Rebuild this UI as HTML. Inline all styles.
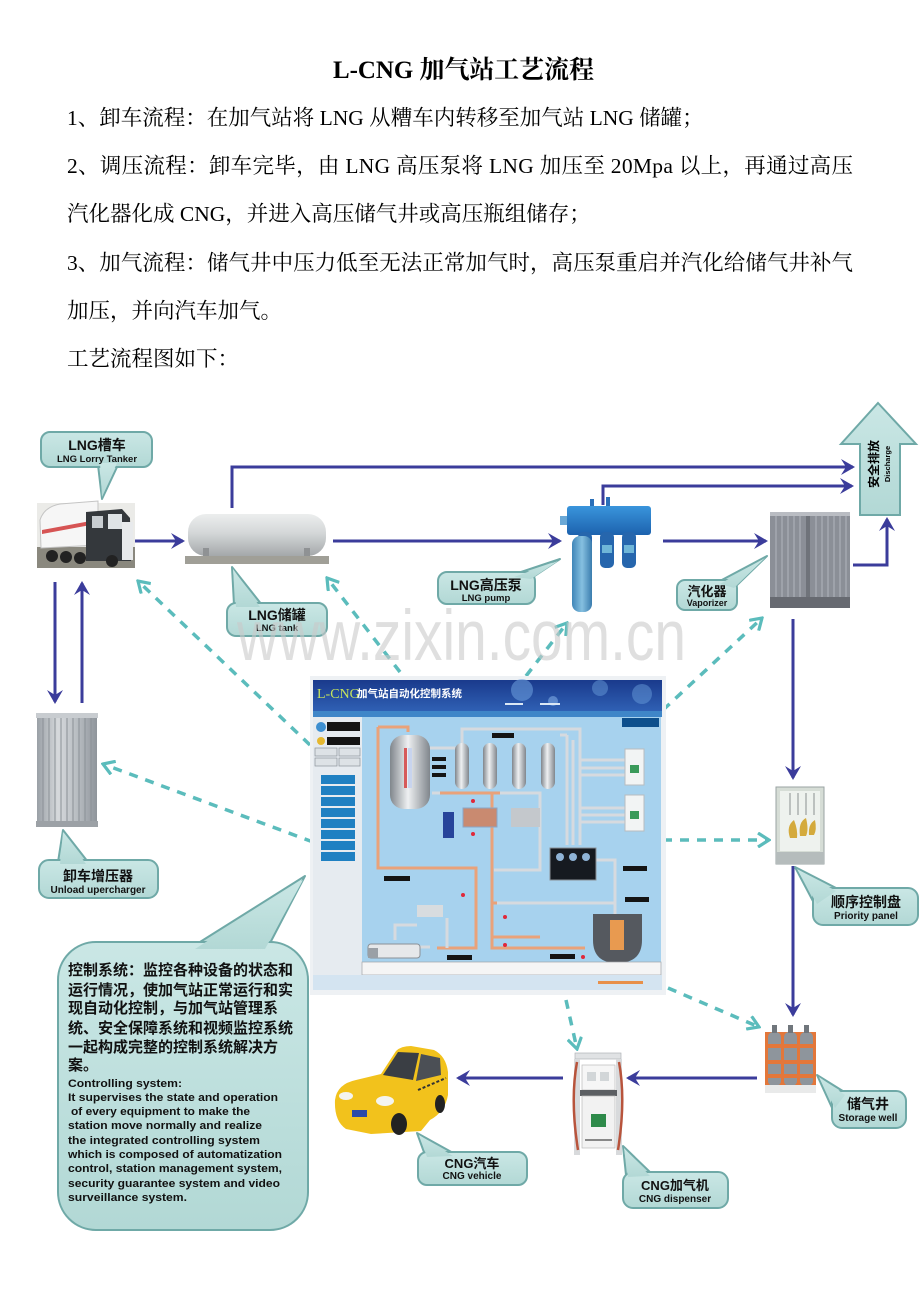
<!DOCTYPE html>
<html><head><meta charset="utf-8">
<style>
html,body{margin:0;padding:0;background:#fff;}
svg{display:block;}
.s{font-family:"Liberation Serif","Noto Serif CJK SC",serif;}
.b{font-family:"Liberation Sans","Noto Sans CJK SC",sans-serif;font-weight:bold;}
</style></head><body>
<svg width="920" height="1302" viewBox="0 0 920 1302" xmlns="http://www.w3.org/2000/svg">
<defs>
<marker id="ar" viewBox="0 0 14 16" markerWidth="14" markerHeight="16" refX="12" refY="8" orient="auto" markerUnits="userSpaceOnUse"><path d="M0,0 L14,8 L0,16 L5,8 z" fill="#3b3c9b"/></marker>
<marker id="ta" viewBox="0 0 14 16" markerWidth="14" markerHeight="16" refX="12" refY="8" orient="auto" markerUnits="userSpaceOnUse"><path d="M1,1 L12,8 L1,15" fill="none" stroke="#5bbcbc" stroke-width="3.2"/></marker>
<linearGradient id="gtank" x1="0" y1="0" x2="0" y2="1"><stop offset="0" stop-color="#eceeee"/><stop offset="0.45" stop-color="#d4d7d8"/><stop offset="1" stop-color="#a4a8aa"/></linearGradient>
<linearGradient id="gblue" x1="0" y1="0" x2="0" y2="1"><stop offset="0" stop-color="#3a95dc"/><stop offset="1" stop-color="#1d62ae"/></linearGradient>
<linearGradient id="gpipe" x1="0" y1="0" x2="1" y2="0"><stop offset="0" stop-color="#3f86b8"/><stop offset="0.5" stop-color="#86c0e0"/><stop offset="1" stop-color="#3a7cae"/></linearGradient>
<linearGradient id="gsc" x1="0" y1="0" x2="1" y2="0"><stop offset="0" stop-color="#9aa0a6"/><stop offset="0.35" stop-color="#d6d9dc"/><stop offset="0.7" stop-color="#b5babf"/><stop offset="1" stop-color="#8f959b"/></linearGradient>
<linearGradient id="ghdr" x1="0" y1="0" x2="0" y2="1"><stop offset="0" stop-color="#1a3a8c"/><stop offset="1" stop-color="#2f60b4"/></linearGradient>
<linearGradient id="gcyl" x1="0" y1="0" x2="1" y2="0"><stop offset="0" stop-color="#80868c"/><stop offset="0.45" stop-color="#eef0f2"/><stop offset="1" stop-color="#80868c"/></linearGradient>
<linearGradient id="gbub" x1="0" y1="0" x2="0" y2="1"><stop offset="0" stop-color="#cae7e5"/><stop offset="1" stop-color="#b2d8d5"/></linearGradient>
</defs>

<!-- ===== Top text ===== -->
<text class="s" x="333" y="78" font-size="25" font-weight="bold" textLength="261" lengthAdjust="spacingAndGlyphs">L-CNG 加气站工艺流程</text>
<text class="s" x="67" y="125" font-size="21.5">1、卸车流程：在加气站将 LNG 从糟车内转移至加气站 LNG 储罐；</text>
<text class="s" x="67" y="173" font-size="21.5" textLength="786" lengthAdjust="spacing">2、调压流程：卸车完毕，由 LNG 高压泵将 LNG 加压至 20Mpa 以上，再通过高压</text>
<text class="s" x="67" y="221" font-size="21.5">汽化器化成 CNG，并进入高压储气井或高压瓶组储存；</text>
<text class="s" x="67" y="270" font-size="21.5" textLength="786" lengthAdjust="spacing">3、加气流程：储气井中压力低至无法正常加气时，高压泵重启并汽化给储气井补气</text>
<text class="s" x="67" y="318" font-size="21.5">加压，并向汽车加气。</text>
<text class="s" x="67" y="366" font-size="21.5">工艺流程图如下：</text>

<!-- ===== Discharge arrow ===== -->
<polygon points="878,403 916,444 900,444 900,515 860,515 860,444 841,444" fill="url(#gbub)" stroke="#6fa9a7" stroke-width="2"/>
<g transform="translate(874,464) rotate(-90)"><text class="b" x="0" y="4" text-anchor="middle" font-size="12">安全排放</text></g>
<g transform="translate(887,464) rotate(-90)"><text class="b" x="0" y="3" text-anchor="middle" font-size="7.5">Discharge</text></g>

<!-- ===== Solid flow lines ===== -->
<g fill="none" stroke="#3b3c9b" stroke-width="3">
<path d="M133,541 H183" marker-end="url(#ar)"/>
<path d="M232,508 V467 H853" marker-end="url(#ar)"/>
<path d="M333,541 H560" marker-end="url(#ar)"/>
<path d="M603,505 V486 H852" marker-end="url(#ar)"/>
<path d="M663,541 H766" marker-end="url(#ar)"/>
<path d="M853,565 H887 V519" marker-end="url(#ar)"/>
<path d="M793,619 V778" marker-end="url(#ar)"/>
<path d="M793,866 V1015" marker-end="url(#ar)"/>
<path d="M757,1078 H628" marker-end="url(#ar)"/>
<path d="M563,1078 H458" marker-end="url(#ar)"/>
<path d="M55,582 V702" marker-end="url(#ar)"/>
<path d="M82,703 V583" marker-end="url(#ar)"/>
</g>

<!-- ===== Dashed control lines ===== -->
<g fill="none" stroke="#5bbcbc" stroke-width="3.5" stroke-dasharray="9 8">
<path d="M310,745 L138,581" marker-end="url(#ta)"/>
<path d="M400,672 L327,578" marker-end="url(#ta)"/>
<path d="M526,676 L567,623" marker-end="url(#ta)"/>
<path d="M663,710 L762,618" marker-end="url(#ta)"/>
<path d="M313,842 L103,764" marker-end="url(#ta)"/>
<path d="M663,840 L769,840" marker-end="url(#ta)"/>
<path d="M668,988 L759,1027" marker-end="url(#ta)"/>
<path d="M566,1000 L577,1049" marker-end="url(#ta)"/>
</g>

<!-- ===== Truck ===== -->
<g>
<rect x="37" y="503" width="98" height="65" fill="#ebebe8"/>
<rect x="37" y="547" width="98" height="21" fill="#8a887e"/>
<path d="M40,520 Q44,507 60,504 L98,501 L98,545 L41,548 Z" fill="#f6f6f6" stroke="#c4c4c4"/>
<path d="M42,530 L96,520 L96,524 L42,534 Z" fill="#d65454"/>
<path d="M86,512 L122,509 L130,518 L131,561 L86,561 Z" fill="#34383c"/>
<rect x="108" y="514" width="14" height="15" fill="#dfe3e6"/>
<rect x="92" y="516" width="11" height="12" fill="#c8cdd1"/>
<rect x="122" y="522" width="11" height="38" fill="#e8eaec"/>
<circle cx="52" cy="556" r="6" fill="#222"/><circle cx="66" cy="557" r="6" fill="#222"/><circle cx="80" cy="558" r="6" fill="#222"/><circle cx="112" cy="561" r="6" fill="#222"/>
</g>

<!-- ===== LNG tank ===== -->
<g>
<rect x="188" y="514" width="138" height="42" rx="18" fill="url(#gtank)"/>
<rect x="203" y="548" width="6" height="10" fill="#8f9294"/><rect x="304" y="548" width="6" height="10" fill="#8f9294"/>
<rect x="185" y="556" width="144" height="8" fill="#a09f97"/>
</g>

<!-- ===== Pump ===== -->
<g>
<rect x="590" y="499" width="4" height="9" fill="#2a6fb8"/><rect x="606" y="497" width="4" height="11" fill="#2a6fb8"/>
<rect x="560" y="516" width="10" height="9" fill="#6aa8d6"/>
<rect x="567" y="506" width="84" height="29" rx="3" fill="url(#gblue)"/>
<rect x="578" y="532" width="14" height="36" rx="5" fill="#2666ad"/>
<rect x="600" y="532" width="14" height="36" rx="5" fill="#2666ad"/>
<rect x="622" y="532" width="14" height="36" rx="5" fill="#2666ad"/>
<rect x="580" y="545" width="10" height="8" fill="#6fb6d8"/><rect x="602" y="545" width="10" height="8" fill="#6fb6d8"/><rect x="624" y="545" width="10" height="8" fill="#6fb6d8"/>
<rect x="572" y="536" width="20" height="76" rx="8" fill="url(#gpipe)"/>
</g>

<!-- ===== Vaporizer ===== -->
<g>
<rect x="770" y="512" width="80" height="96" fill="#8b8f97"/>
<g stroke="#a5a9b0" stroke-width="1.5">
<line x1="776" y1="515" x2="776" y2="598"/><line x1="782" y1="515" x2="782" y2="598"/><line x1="788" y1="515" x2="788" y2="598"/><line x1="794" y1="515" x2="794" y2="598"/><line x1="800" y1="515" x2="800" y2="598"/>
<line x1="816" y1="515" x2="816" y2="598"/><line x1="822" y1="515" x2="822" y2="598"/><line x1="828" y1="515" x2="828" y2="598"/><line x1="834" y1="515" x2="834" y2="598"/><line x1="840" y1="515" x2="840" y2="598"/><line x1="846" y1="515" x2="846" y2="598"/>
</g>
<rect x="806" y="512" width="4" height="96" fill="#6f737a"/>
<rect x="770" y="512" width="80" height="4" fill="#b9bcc2"/>
<rect x="770" y="597" width="80" height="11" fill="#676a71"/>
</g>

<!-- ===== Unload supercharger ===== -->
<g>
<rect x="37" y="714" width="60" height="113" fill="url(#gsc)"/>
<g stroke="#8a9096" stroke-width="1">
<line x1="43" y1="718" x2="43" y2="822"/><line x1="49" y1="718" x2="49" y2="822"/><line x1="55" y1="718" x2="55" y2="822"/><line x1="61" y1="718" x2="61" y2="822"/><line x1="67" y1="718" x2="67" y2="822"/><line x1="73" y1="718" x2="73" y2="822"/><line x1="79" y1="718" x2="79" y2="822"/><line x1="85" y1="718" x2="85" y2="822"/><line x1="91" y1="718" x2="91" y2="822"/>
</g>
<rect x="36" y="713" width="62" height="5" fill="#c8ccd0"/>
<rect x="36" y="821" width="62" height="6" fill="#9ca1a6"/>
</g>

<!-- ===== Control screen ===== -->
<g>
<rect x="310" y="676" width="356" height="319" fill="#eef1f4"/>
<rect x="313" y="680" width="349" height="31" fill="url(#ghdr)"/>
<circle cx="522" cy="690" r="11" fill="#6fa3e0" opacity="0.55"/>
<circle cx="553" cy="701" r="5" fill="#8fbcf0" opacity="0.5"/>
<circle cx="600" cy="688" r="8" fill="#6fa3e0" opacity="0.45"/>
<circle cx="642" cy="694" r="10" fill="#6fa3e0" opacity="0.45"/>
<text x="317" y="698" font-family="'Liberation Serif',serif" font-size="14" fill="#c6e45c">L-CNG</text>
<text x="357" y="697" font-family="'Noto Sans CJK SC',sans-serif" font-weight="bold" font-size="10.5" fill="#ffffff">加气站自动化控制系统</text>
<rect x="505" y="703" width="18" height="2" fill="#dbe8f5"/><rect x="540" y="703" width="20" height="2" fill="#dbe8f5"/>
<rect x="313" y="711" width="349" height="6" fill="#3f86c8"/>
<rect x="313" y="717" width="49" height="258" fill="#e6ebf0"/>
<circle cx="321" cy="727" r="5" fill="#3d8fd0"/><rect x="327" y="722" width="33" height="9" fill="#141414"/>
<circle cx="321" cy="741" r="4" fill="#e6b830"/><rect x="327" y="737" width="33" height="8" fill="#141414"/>
<g fill="#dde2e6" stroke="#8c9399" stroke-width="0.7">
<rect x="315" y="748" width="22" height="8"/><rect x="339" y="748" width="21" height="8"/>
<rect x="315" y="758" width="22" height="8"/><rect x="339" y="758" width="21" height="8"/>
</g>
<g fill="#1f80c2">
<rect x="321" y="775" width="34" height="9"/><rect x="321" y="786" width="34" height="9"/><rect x="321" y="797" width="34" height="9"/><rect x="321" y="808" width="34" height="9"/>
<rect x="321" y="819" width="34" height="9"/><rect x="321" y="830" width="34" height="9"/><rect x="321" y="841" width="34" height="9"/><rect x="321" y="852" width="34" height="9"/>
</g>
<rect x="362" y="717" width="299" height="246" fill="#a7d2ee"/>
<rect x="622" y="718" width="37" height="9" fill="#0d4f8c"/>
<g fill="none" stroke="#e9a27a" stroke-width="3">
<path d="M378,727 H408 V732"/>
<path d="M378,727 V868 H476 V948 H437"/>
<path d="M440,793 H500"/>
<path d="M492,793 V948 H585"/>
<path d="M492,903 H540"/><path d="M492,937 H540"/>
</g>
<g fill="none" stroke="#d6dadf" stroke-width="3">
<path d="M462,745 V729 H580 V845"/>
<path d="M567,735 V845"/><path d="M573,740 V845"/>
<path d="M560,735 H567"/>
<path d="M430,748 H458"/>
<path d="M432,793 H440"/>
<path d="M500,793 H540 V870 H494"/>
<path d="M580,760 H625"/><path d="M580,768 H625"/><path d="M580,775 H625"/>
<path d="M580,808 H625"/><path d="M580,815 H625"/><path d="M580,822 H625"/>
<path d="M596,860 H615 V903 H497"/>
<path d="M615,903 V915"/>
<path d="M420,947 H430 M395,940 V925 H417"/>
<path d="M447,918 V948"/>
</g>
<rect x="390" y="735" width="40" height="74" rx="14" fill="url(#gcyl)"/>
<rect x="404" y="748" width="3" height="40" fill="#d65a5a"/>
<rect x="408" y="748" width="4" height="40" fill="#c8d4ee"/>
<g fill="#141414"><rect x="432" y="757" width="14" height="4"/><rect x="432" y="765" width="14" height="4"/><rect x="432" y="773" width="14" height="4"/></g>
<rect x="455" y="743" width="14" height="46" rx="7" fill="url(#gcyl)"/>
<rect x="483" y="743" width="14" height="46" rx="7" fill="url(#gcyl)"/>
<rect x="512" y="743" width="14" height="46" rx="7" fill="url(#gcyl)"/>
<rect x="541" y="743" width="14" height="46" rx="7" fill="url(#gcyl)"/>
<rect x="463" y="808" width="34" height="19" fill="#c98a70" stroke="#8aa6c6"/>
<rect x="511" y="808" width="29" height="19" fill="#c4c8cc"/>
<rect x="443" y="812" width="11" height="26" fill="#27449a"/>
<rect x="550" y="848" width="46" height="32" fill="#161a20" stroke="#8a9096"/>
<circle cx="560" cy="857" r="4" fill="#8fb3d6"/><circle cx="573" cy="857" r="4" fill="#8fb3d6"/><circle cx="586" cy="857" r="4" fill="#8fb3d6"/>
<rect x="625" y="749" width="19" height="36" fill="#f2f4f4" stroke="#b8bcbf"/><rect x="630" y="765" width="9" height="8" fill="#3a9a5a"/>
<rect x="625" y="795" width="19" height="36" fill="#f2f4f4" stroke="#b8bcbf"/><rect x="630" y="811" width="9" height="8" fill="#3a9a5a"/>
<path d="M593,914 H642 V940 Q642,963 617,963 Q593,963 593,940 Z" fill="#55595f"/>
<rect x="610" y="920" width="14" height="30" fill="#e89a50"/>
<rect x="368" y="944" width="52" height="14" rx="3" fill="#e6e8ea" stroke="#8b9095"/>
<rect x="368" y="948" width="10" height="10" fill="#9aa0a6"/>
<rect x="417" y="905" width="26" height="12" fill="#d8dcdf"/>
<g fill="#141414"><rect x="384" y="876" width="26" height="5"/><rect x="492" y="733" width="22" height="5"/><rect x="623" y="866" width="24" height="5"/><rect x="625" y="897" width="24" height="5"/><rect x="447" y="955" width="25" height="5"/><rect x="550" y="954" width="25" height="5"/></g>
<g fill="#e0283a"><circle cx="473" cy="801" r="2"/><circle cx="473" cy="834" r="2"/><circle cx="463" cy="895" r="2"/><circle cx="505" cy="917" r="2"/><circle cx="505" cy="945" r="2"/><circle cx="583" cy="957" r="2"/></g>
<rect x="362" y="962" width="299" height="13" fill="#f5f5f5" stroke="#a0a4a8" stroke-width="0.7"/>
<rect x="313" y="975" width="349" height="15" fill="#d4e4f1"/>
<rect x="598" y="981" width="45" height="3" fill="#e8904a"/>
</g>

<!-- ===== Priority panel ===== -->
<g>
<rect x="776" y="787" width="48" height="77" fill="#d6ddd6" stroke="#9aa3a3"/>
<rect x="780" y="791" width="40" height="60" fill="#eef2ee"/>
<g stroke="#8a9090" stroke-width="1"><line x1="790" y1="793" x2="790" y2="815"/><line x1="798" y1="793" x2="798" y2="815"/><line x1="806" y1="793" x2="806" y2="815"/><line x1="814" y1="793" x2="814" y2="815"/></g>
<path d="M790,838 Q786,826 794,820 Q798,830 797,838 Z M800,836 Q798,822 806,818 Q809,830 806,836 Z M809,835 Q808,824 815,820 Q817,830 814,835 Z" fill="#d4aa3c"/>
<rect x="776" y="852" width="48" height="12" fill="#b5bcbc"/>
</g>

<!-- ===== Storage well ===== -->
<g>
<rect x="765" y="1032" width="51" height="60" fill="#e3773a"/>
<rect x="768" y="1032" width="13" height="54" rx="5" fill="#8e959c"/>
<rect x="784" y="1032" width="13" height="54" rx="5" fill="#8e959c"/>
<rect x="800" y="1032" width="13" height="54" rx="5" fill="#8e959c"/>
<g fill="#e3773a"><rect x="768" y="1044" width="13" height="4"/><rect x="784" y="1044" width="13" height="4"/><rect x="800" y="1044" width="13" height="4"/><rect x="768" y="1060" width="13" height="4"/><rect x="784" y="1060" width="13" height="4"/><rect x="800" y="1060" width="13" height="4"/><rect x="768" y="1074" width="13" height="4"/><rect x="784" y="1074" width="13" height="4"/><rect x="800" y="1074" width="13" height="4"/></g>
<rect x="765" y="1085" width="51" height="8" fill="#e9eaea"/>
<g fill="#70767c"><rect x="772" y="1025" width="5" height="8"/><rect x="788" y="1025" width="5" height="8"/><rect x="804" y="1025" width="5" height="8"/></g>
</g>

<!-- ===== Dispenser ===== -->
<g>
<rect x="575" y="1053" width="46" height="6" fill="#e0e2e4" stroke="#b0b4b8" stroke-width="0.7"/>
<rect x="574" y="1059" width="6" height="96" fill="#d8dadc"/>
<rect x="616" y="1059" width="6" height="96" fill="#d8dadc"/>
<path d="M577,1062 Q570,1100 578,1150 M619,1062 Q626,1100 618,1150" fill="none" stroke="#b8543c" stroke-width="2.5"/>
<rect x="582" y="1065" width="33" height="25" fill="#f6f6f6" stroke="#bbb" stroke-width="0.7"/>
<rect x="587" y="1072" width="9" height="9" fill="#d2d6d8"/><rect x="600" y="1072" width="9" height="9" fill="#d2d6d8"/>
<rect x="580" y="1090" width="37" height="6" fill="#5c5f63"/>
<rect x="582" y="1096" width="33" height="52" fill="#f2f2f2" stroke="#bbb" stroke-width="0.7"/>
<rect x="591" y="1114" width="15" height="13" fill="#2e8a4a"/>
<rect x="585" y="1139" width="27" height="2" fill="#888"/>
</g>

<!-- ===== Car ===== -->
<g>
<path d="M335,1100 Q337,1084 356,1080 L381,1074 L396,1051 Q401,1046 411,1046 L434,1050 Q446,1056 448,1072 L448,1095 Q445,1112 430,1120 L421,1131 L371,1134 L346,1129 Q334,1121 335,1100 Z" fill="#f2c21c"/>
<path d="M383,1075 L398,1052 L419,1053 L413,1080 Z" fill="#3a3e44"/>
<path d="M421,1054 L440,1058 L441,1075 L416,1081 Z" fill="#4b4f55"/>
<path d="M418,1090 L446,1078" stroke="#333" stroke-width="2" stroke-dasharray="3 2"/>
<ellipse cx="346" cy="1096" rx="7" ry="4" fill="#f4f4f0"/>
<ellipse cx="385" cy="1101" rx="9" ry="5" fill="#f4f4f0"/>
<rect x="352" y="1110" width="15" height="7" fill="#2a4aa8"/>
<ellipse cx="399" cy="1124" rx="8" ry="11" fill="#222"/>
<ellipse cx="440" cy="1104" rx="5" ry="9" fill="#222"/>
</g>

<!-- ===== Bubbles ===== -->
<g fill="url(#gbub)" stroke="#6fa9a7" stroke-width="2" stroke-linejoin="round">
<polygon points="98,465 118,465 102,499"/>
<rect x="41" y="432" width="111" height="35" rx="9"/>
<polygon points="234,605 262,605 232,567"/>
<rect x="227" y="603" width="100" height="33" rx="9"/>
<polygon points="512,575 533,577 560,559"/>
<rect x="438" y="572" width="97" height="32" rx="9"/>
<polygon points="718,582 736,586 767,556"/>
<rect x="677" y="580" width="60" height="30" rx="8"/>
<polygon points="58,862 88,862 63,830"/>
<rect x="39" y="860" width="119" height="38" rx="10"/>
<polygon points="815,905 838,889 795,867"/>
<rect x="813" y="888" width="105" height="37" rx="10"/>
<polygon points="833,1110 846,1093 817,1075"/>
<rect x="832" y="1091" width="74" height="37" rx="10"/>
<polygon points="626,1175 652,1174 623,1146"/>
<rect x="623" y="1172" width="105" height="36" rx="10"/>
<polygon points="425,1155 455,1154 417,1133"/>
<rect x="418" y="1152" width="109" height="33" rx="9"/>
<polygon points="192,947 268,947 305,876"/>
<rect x="58" y="942" width="250" height="288" rx="38"/>
</g>
<g fill="url(#gbub)" stroke="none">
<polygon points="100,463 117,463 102,497"/>
<polygon points="236,607 260,607 233,569"/>
<polygon points="514,577 531,579 558,561"/>
<polygon points="720,584 734,588 765,558"/>
<polygon points="60,864 86,864 63,832"/>
<polygon points="817,904 836,891 797,869"/>
<polygon points="835,1108 845,1095 819,1077"/>
<polygon points="628,1177 650,1176 624,1148"/>
<polygon points="427,1157 453,1156 419,1135"/>
<polygon points="195,949 265,949 303,880"/>
</g>

<g class="b" text-anchor="middle" fill="#111">
<text x="97" y="450" font-size="14">LNG槽车</text>
<text x="97" y="462" font-size="9.5">LNG Lorry Tanker</text>
<text x="277" y="620" font-size="14">LNG储罐</text>
<text x="277" y="631" font-size="9.5">LNG tank</text>
<text x="486" y="590" font-size="14">LNG高压泵</text>
<text x="486" y="601" font-size="9.5">LNG pump</text>
<text x="707" y="596" font-size="13">汽化器</text>
<text x="707" y="606" font-size="9">Vaporizer</text>
<text x="98" y="881" font-size="14">卸车增压器</text>
<text x="98" y="893" font-size="10">Unload upercharger</text>
<text x="866" y="907" font-size="14">顺序控制盘</text>
<text x="866" y="919" font-size="10">Priority panel</text>
<text x="868" y="1109" font-size="14">储气井</text>
<text x="868" y="1121" font-size="10">Storage well</text>
<text x="675" y="1190" font-size="13">CNG加气机</text>
<text x="675" y="1202" font-size="10">CNG dispenser</text>
<text x="472" y="1168" font-size="13">CNG汽车</text>
<text x="472" y="1179" font-size="10">CNG vehicle</text>
</g>

<g class="b" fill="#111" font-size="15">
<text x="68" y="975">控制系统：监控各种设备的状态和</text>
<text x="68" y="995">运行情况，使加气站正常运行和实</text>
<text x="68" y="1013">现自动化控制，与加气站管理系</text>
<text x="68" y="1033">统、安全保障系统和视频监控系统</text>
<text x="68" y="1052">一起构成完整的控制系统解决方</text>
<text x="68" y="1070">案。</text>
</g>
<g class="b" fill="#111" font-size="11">
<text x="68" y="1087" textLength="114" lengthAdjust="spacingAndGlyphs">Controlling system:</text>
<text x="68" y="1101" textLength="210" lengthAdjust="spacingAndGlyphs">It supervises the state and operation</text>
<text x="71" y="1115" textLength="179" lengthAdjust="spacingAndGlyphs">of every equipment to make the</text>
<text x="68" y="1129" textLength="194" lengthAdjust="spacingAndGlyphs">station move normally and realize</text>
<text x="68" y="1144" textLength="192" lengthAdjust="spacingAndGlyphs">the integrated controlling system</text>
<text x="68" y="1158" textLength="214" lengthAdjust="spacingAndGlyphs">which is composed of automatization</text>
<text x="68" y="1172" textLength="214" lengthAdjust="spacingAndGlyphs">control, station management system,</text>
<text x="68" y="1187" textLength="212" lengthAdjust="spacingAndGlyphs">security guarantee system and video</text>
<text x="68" y="1201" textLength="119" lengthAdjust="spacingAndGlyphs">surveillance system.</text>
</g>

<text x="237" y="660" font-family="'Liberation Sans',sans-serif" font-size="71" fill="#cacaca" opacity="0.6" textLength="449" lengthAdjust="spacingAndGlyphs">www.zixin.com.cn</text>
</svg>
</body></html>
